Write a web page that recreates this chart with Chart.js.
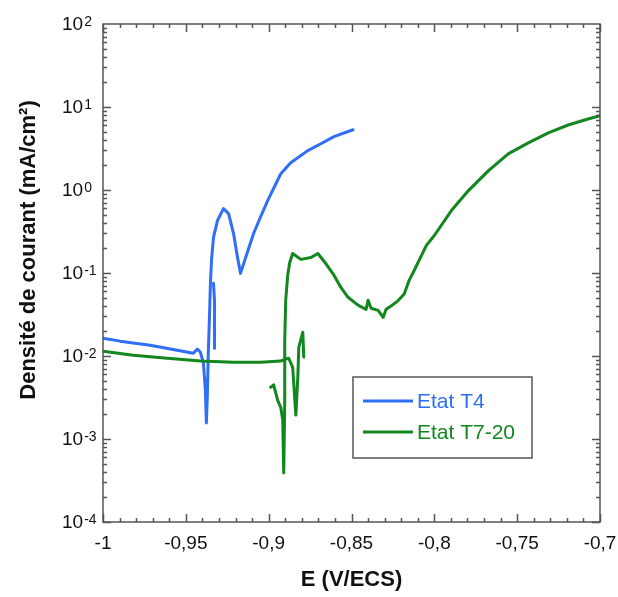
<!DOCTYPE html>
<html>
<head>
<meta charset="utf-8">
<script src="https://cdn.jsdelivr.net/npm/chart.js@4.4.1/dist/chart.umd.min.js"></script>
<style>
    html, body { margin: 0; padding: 0; background: #fff; }
    canvas { display: block; }
</style>
</head>
<body>
<canvas id="polar-chart" width="618" height="597"></canvas>
<script>
// Etat T4 : potentiel (V/ECS) et densité de courant (mA/cm²), null = coupure de tracé
const eT4 = [-1.000, -0.9897, -0.9715, -0.9552, -0.9455, -0.9430, -0.9412, -0.9394, -0.9382, -0.9376,
             -0.9370, -0.9364, -0.9358, -0.9352, -0.9345, -0.9333, -0.9309, -0.9273, -0.9242, -0.9212,
             -0.9188, -0.9170, -0.9139, -0.9091, -0.9048, -0.9006, -0.8927, -0.8867, -0.8764, -0.8685,
             -0.8606, -0.8491,
             null,
             -0.9333, -0.9327, -0.9327];
const iT4 = [0.0164, 0.0151, 0.0135, 0.0117, 0.0108, 0.0121, 0.0111, 0.0082, 0.0039, 0.00156,
             0.0034, 0.0117, 0.0269, 0.071, 0.142, 0.268, 0.428, 0.597, 0.520, 0.299,
             0.154, 0.099, 0.154, 0.299, 0.479, 0.746, 1.57, 2.13, 2.98, 3.61,
             4.39, 5.32,
             null,
             0.075, 0.047, 0.0124];

// Etat T7-20
const eT720 = [-1.000, -0.9818, -0.9612, -0.9412, -0.9212, -0.9048, -0.8927, -0.8897, -0.8879, -0.8855,
               -0.8836, -0.8824, -0.8818, -0.8794, -0.8788,
               null,
               -0.8988, -0.8970, -0.8945, -0.8927, -0.8915, -0.8909, -0.8903, -0.8903, -0.8897, -0.8885,
               -0.8873, -0.8855, -0.8806, -0.8745, -0.8703, -0.8655, -0.8606, -0.8564, -0.8521, -0.8461,
               -0.8412, -0.8400, -0.8382, -0.8339, -0.8309, -0.8291, -0.8261, -0.8218, -0.8182, -0.8152,
               -0.8121, -0.8048, -0.8000, -0.7897, -0.7794, -0.7673, -0.7552, -0.7430, -0.7309, -0.7188,
               -0.7067, -0.7000];
const iT720 = [0.0114, 0.0102, 0.0094, 0.0087, 0.0084, 0.0084, 0.0087, 0.0092, 0.0094, 0.0073,
               0.00194, 0.0056, 0.0128, 0.0193, 0.0097,
               null,
               0.0042, 0.0045, 0.0029, 0.0024, 0.00169, 0.00039, 0.0029, 0.0155, 0.047, 0.094,
               0.134, 0.172, 0.146, 0.154, 0.172, 0.130, 0.094, 0.067, 0.051, 0.041,
               0.0365, 0.047, 0.0376, 0.0355, 0.0292, 0.0365, 0.0400, 0.0465, 0.0560, 0.0815,
               0.108, 0.215, 0.283, 0.565, 0.984, 1.71, 2.74, 3.72, 4.90, 6.11,
               7.21, 7.83];

const seriesLabels = ['Etat T4', 'Etat T7-20'];
const seriesColors = ['#2f6ef7', '#11871d'];

const xTicks = [-1, -0.95, -0.9, -0.85, -0.8, -0.75, -0.7];
const xTickLabels = ['-1', '-0,95', '-0,9', '-0,85', '-0,8', '-0,75', '-0,7'];
const yExponents = [-4, -3, -2, -1, 0, 1, 2];

const FONT = '"Liberation Sans", Arial, sans-serif';

function toPoints(xs, ys) {
    const pts = [];
    let lastX = xs[0];
    xs.forEach((x, i) => {
        if (x === null || ys[i] === null) {
            pts.push({ x: lastX, y: null });
        } else {
            pts.push({ x: x, y: ys[i] });
            lastX = x;
        }
    });
    return pts;
}

// Cadre, graduations, libellés et légende dessinés à la main
const framePlugin = {
    id: 'frame',
    afterDraw(chart) {
        const { ctx, chartArea: a } = chart;
        const xs = chart.scales.x;
        const ys = chart.scales.y;
        ctx.save();

        // graduations (vers l'intérieur, sur les 4 côtés)
        ctx.strokeStyle = '#555';
        ctx.lineWidth = 1.5;
        ctx.beginPath();
        for (let k = 0; k <= 30; k++) {
            const v = -1 + k * 0.01;
            const px = Math.round(xs.getPixelForValue(v)) + 0.5;
            const len = (k % 5 === 0) ? 8 : 4;
            ctx.moveTo(px, a.bottom); ctx.lineTo(px, a.bottom - len);
            ctx.moveTo(px, a.top); ctx.lineTo(px, a.top + len);
        }
        for (let d = -4; d < 2; d++) {
            for (let m = 1; m <= 9; m++) {
                const py = Math.round(ys.getPixelForValue(m * Math.pow(10, d))) + 0.5;
                const len = (m === 1) ? 8 : 4;
                ctx.moveTo(a.left, py); ctx.lineTo(a.left + len, py);
                ctx.moveTo(a.right, py); ctx.lineTo(a.right - len, py);
            }
        }
        ctx.stroke();

        // cadre
        ctx.strokeRect(a.left, a.top, a.right - a.left, a.bottom - a.top);

        // libellés de l'axe x
        ctx.fillStyle = '#111';
        ctx.font = '19px ' + FONT;
        ctx.textAlign = 'center';
        ctx.textBaseline = 'middle';
        xTicks.forEach((v, i) => {
            ctx.fillText(xTickLabels[i], xs.getPixelForValue(v), a.bottom + 22);
        });

        // libellés de l'axe y : 10 puissance n
        yExponents.forEach(n => {
            const py = ys.getPixelForValue(Math.pow(10, n));
            ctx.font = '19px ' + FONT;
            ctx.textAlign = 'left';
            ctx.textBaseline = 'middle';
            ctx.fillText('10', 62, py + 1);
            const w = ctx.measureText('10').width;
            ctx.font = '14px ' + FONT;
            ctx.textBaseline = 'alphabetic';
            ctx.fillText(String(n), 62 + w + 1, py + 2);
        });

        // titres
        ctx.font = 'bold 22px ' + FONT;
        ctx.textAlign = 'center';
        ctx.textBaseline = 'middle';
        ctx.fillText('E (V/ECS)', (a.left + a.right) / 2, 580);
        ctx.save();
        ctx.translate(29, 250);
        ctx.rotate(-Math.PI / 2);
        ctx.fillText('Densité de courant (mA/cm²)', 0, 0);
        ctx.restore();

        // légende
        ctx.fillStyle = '#fff';
        ctx.fillRect(353, 377, 179, 81);
        ctx.strokeStyle = '#555';
        ctx.lineWidth = 1.5;
        ctx.strokeRect(353, 377, 179, 81);
        ctx.font = '21px ' + FONT;
        ctx.textAlign = 'left';
        ctx.textBaseline = 'middle';
        seriesLabels.forEach((lab, i) => {
            const y = 401 + i * 31;
            ctx.strokeStyle = seriesColors[i];
            ctx.lineWidth = 3;
            ctx.beginPath();
            ctx.moveTo(363, y); ctx.lineTo(413, y);
            ctx.stroke();
            ctx.fillStyle = seriesColors[i];
            ctx.fillText(lab, 417, y + 1);
        });

        ctx.restore();
    }
};

new Chart(document.getElementById('polar-chart'), {
    type: 'line',
    data: {
        datasets: [
            {
                label: seriesLabels[0],
                data: toPoints(eT4, iT4),
                borderColor: seriesColors[0],
                borderWidth: 3,
                order: 1,
            },
            {
                label: seriesLabels[1],
                data: toPoints(eT720, iT720),
                borderColor: seriesColors[1],
                borderWidth: 3,
                order: 0,
            }
        ]
    },
    options: {
        responsive: false,
        animation: false,
        spanGaps: false,
        elements: {
            point: { radius: 0 },
            line: { tension: 0, borderJoinStyle: 'round', borderCapStyle: 'round' }
        },
        layout: { padding: { left: 103, right: 18, top: 24, bottom: 75 } },
        plugins: {
            legend: { display: false },
            tooltip: { enabled: false }
        },
        scales: {
            x: { type: 'linear', min: -1, max: -0.7, display: false },
            y: { type: 'logarithmic', min: 1e-4, max: 1e2, display: false }
        }
    },
    plugins: [framePlugin]
});
</script>
</body>
</html>
